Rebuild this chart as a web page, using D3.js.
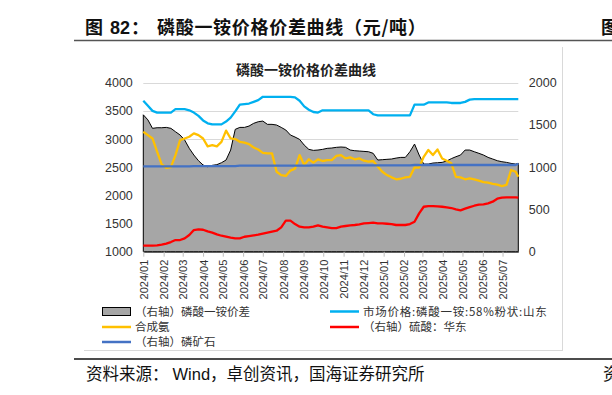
<!DOCTYPE html>
<html><head><meta charset="utf-8">
<script src="https://cdn.jsdelivr.net/npm/d3@7"></script>
<style>
html,body{margin:0;padding:0;background:#fff;}
svg{display:block;}
</style></head>
<body><svg id="c" width="612" height="395"></svg>
<script>
const dates = ["2024-01-01","2024-01-08","2024-01-15","2024-01-22","2024-01-29","2024-02-05","2024-02-12","2024-02-19","2024-02-26","2024-03-04","2024-03-11","2024-03-18","2024-03-25","2024-04-01","2024-04-08","2024-04-15","2024-04-22","2024-04-29","2024-05-06","2024-05-13","2024-05-20","2024-05-27","2024-06-03","2024-06-10","2024-06-17","2024-06-24","2024-07-01","2024-07-08","2024-07-15","2024-07-22","2024-07-29","2024-08-05","2024-08-12","2024-08-19","2024-08-26","2024-09-02","2024-09-09","2024-09-16","2024-09-23","2024-09-30","2024-10-07","2024-10-14","2024-10-21","2024-10-28","2024-11-04","2024-11-11","2024-11-18","2024-11-25","2024-12-02","2024-12-09","2024-12-16","2024-12-23","2024-12-30","2025-01-06","2025-01-13","2025-01-20","2025-01-27","2025-02-03","2025-02-10","2025-02-17","2025-02-24","2025-03-03","2025-03-10","2025-03-17","2025-03-24","2025-03-31","2025-04-07","2025-04-14","2025-04-21","2025-04-28","2025-05-05","2025-05-12","2025-05-19","2025-05-26","2025-06-02","2025-06-09","2025-06-16","2025-06-23","2025-06-30","2025-07-07","2025-07-14","2025-07-21","2025-07-25"];

// (右轴) 磷酸一铵价差
const spreadMAP = [1620,1560,1460,1467,1467,1471,1460,1420,1381,1321,1223,1144,1077,1026,1006,1022,1030,1053,1085,1203,1448,1471,1471,1487,1519,1538,1546,1507,1507,1499,1471,1440,1381,1357,1329,1262,1211,1199,1203,1211,1223,1227,1235,1239,1235,1203,1195,1191,1187,1183,1164,1085,1089,1093,1097,1108,1116,1116,1183,1274,1144,1037,1037,1049,1053,1057,1073,1101,1124,1144,1203,1203,1183,1164,1144,1116,1097,1077,1065,1057,1045,1037,1045];
// 市场价格:磷酸一铵:58%粉状:山东 (左轴)
const priceMAP = [3680,3590,3500,3470,3470,3470,3470,3530,3530,3530,3510,3470,3410,3330,3280,3260,3260,3260,3310,3380,3490,3610,3620,3630,3660,3690,3750,3750,3750,3750,3750,3750,3750,3740,3680,3580,3520,3480,3470,3510,3510,3510,3510,3510,3510,3510,3510,3510,3510,3510,3440,3420,3420,3420,3420,3420,3420,3420,3420,3610,3610,3610,3650,3650,3650,3650,3650,3640,3640,3640,3660,3700,3710,3710,3710,3710,3710,3710,3710,3710,3710,3710,3710];
// 合成氨 (左轴)
const ammonia = [3130,3070,3010,2775,2550,2490,2500,2715,2980,3010,3040,3100,3070,3010,2870,2890,2870,2950,3150,3010,3000,2950,2935,2910,2850,2815,2755,2745,2745,2420,2360,2345,2440,2475,2715,2540,2640,2580,2640,2610,2625,2625,2700,2715,2655,2675,2640,2655,2615,2600,2610,2510,2420,2360,2320,2285,2295,2320,2330,2495,2495,2685,2805,2715,2815,2655,2615,2570,2330,2320,2285,2300,2285,2260,2235,2225,2205,2190,2165,2185,2450,2420,2330];
// (右轴) 硫酸:华东
const sulfuric = [71,71,71,75,83,95,114,138,138,158,197,256,264,260,241,225,205,189,177,166,158,158,177,185,193,201,213,225,237,248,288,367,367,327,296,288,288,296,312,296,288,280,280,296,304,312,316,323,335,339,343,335,335,331,327,316,316,316,327,355,454,532,540,540,536,532,525,517,501,489,509,528,544,556,560,572,592,627,639,643,643,643,639];
// (右轴) 磷矿石
const phosRock = [1010,1010,1010,1010,1010,1010,1010,1010,1010,1010,1010,1012,1012,1012,1012,1012,1012,1012,1012,1012,1012,1018,1018,1018,1018,1018,1018,1018,1018,1018,1018,1018,1018,1018,1018,1018,1018,1022,1022,1022,1022,1022,1022,1022,1022,1022,1022,1022,1022,1022,1022,1022,1022,1022,1022,1022,1022,1022,1022,1026,1026,1026,1026,1026,1026,1026,1026,1026,1026,1026,1026,1026,1026,1026,1026,1026,1026,1026,1026,1026,1026,1026,1040];

const leftTicks = [1000,1500,2000,2500,3000,3500,4000];
const rightTicks = [0,500,1000,1500,2000];

const svg = d3.select("#c");
const parse = d3.timeParse("%Y-%m-%d");
const D = dates.map(parse);
const CJK = "'Noto Sans CJK SC','Noto Sans',sans-serif";
const NUM = "'Liberation Sans',Arial,sans-serif";

const x = d3.scaleTime().domain([D[0], D[D.length-1]]).range([143.3, 518.3]);
const yL = d3.scaleLinear().domain([1000,4000]).range([251.7, 82.7]);
const yR = d3.scaleLinear().domain([0,2000]).range([251.7, 82.7]);

// Header
const hdr = svg.append("text").attr("y",34).attr("font-family",CJK).attr("font-weight","bold").attr("font-size",18).attr("fill","#111");
hdr.append("tspan").attr("x",85).text("图");
hdr.append("tspan").attr("x",110).attr("font-family",NUM).text("82");
hdr.append("tspan").attr("x",131).text("：");
hdr.append("tspan").attr("x",157).attr("letter-spacing",0.7).text("磷酸一铵价格价差曲线（元/吨）");
svg.append("text").attr("x",601).attr("y",34).attr("font-family",CJK).attr("font-weight","bold").attr("font-size",18).attr("fill","#111").text("图");
svg.append("line").attr("x1",74).attr("x2",612).attr("y1",40.5).attr("y2",40.5).attr("stroke","#555").attr("stroke-width",1.3);

// chart frame (right & bottom edges)
svg.append("line").attr("x1",562.5).attr("x2",562.5).attr("y1",47).attr("y2",351).attr("stroke","#D9D9D9");
svg.append("line").attr("x1",84).attr("x2",562.5).attr("y1",350.5).attr("y2",350.5).attr("stroke","#D9D9D9");

// chart title
svg.append("text").attr("x",306).attr("y",75).attr("text-anchor","middle").attr("font-family",CJK).attr("font-weight","bold").attr("font-size",14).attr("fill","#222").text("磷酸一铵价格价差曲线");

// gridlines
svg.append("g").selectAll("line").data(leftTicks.slice(1)).join("line")
  .attr("x1",143.3).attr("x2",518.3).attr("y1",d=>Math.round(yL(d))+0.5).attr("y2",d=>Math.round(yL(d))+0.5)
  .attr("stroke","#D9D9D9").attr("stroke-width",1);

// area
const areaData = D.map((d,i)=>({d, v:spreadMAP[i]}));
svg.append("path").datum(areaData)
  .attr("d", d3.area().x(p=>x(p.d)).y0(yR(0)).y1(p=>yR(p.v)))
  .attr("fill","#A6A6A6").attr("stroke","#000").attr("stroke-width",1).attr("stroke-linejoin","round");

// x axis
const xa = svg.append("g").attr("transform",`translate(0,${yR(0)})`)
  .call(d3.axisBottom(x).ticks(d3.timeMonth.every(1)).tickFormat(d3.timeFormat("%Y/%m")).tickSize(5).tickSizeOuter(0));
xa.select(".domain").attr("stroke","#333");
xa.selectAll(".tick line").attr("stroke","#BFBFBF");
xa.selectAll("text").attr("transform","rotate(-90)").attr("text-anchor","end")
  .attr("x",-8).attr("y",0).attr("dy","0.36em").attr("font-family",NUM).attr("font-size",11).attr("fill","#333");

// lines
function drawLine(vals, scale, color){
  svg.append("path").datum(D.map((d,i)=>({d, v:vals[i]})))
    .attr("d", d3.line().x(p=>x(p.d)).y(p=>scale(p.v)))
    .attr("fill","none").attr("stroke",color).attr("stroke-width",2.3).attr("stroke-linejoin","round");
}
drawLine(priceMAP, yL, "#00B0F0");
drawLine(ammonia, yL, "#FFC000");
drawLine(sulfuric, yR, "#FF0000");
drawLine(phosRock, yR, "#4472C4");

// y axes
const la = svg.append("g").attr("transform","translate(143.3,0)")
  .call(d3.axisLeft(yL).tickValues(leftTicks).tickFormat(d3.format("d")).tickSize(0).tickPadding(10.5));
la.select(".domain").remove();
la.selectAll("text").attr("font-family",NUM).attr("font-size",12.5).attr("fill","#333");
const ra = svg.append("g").attr("transform","translate(518.3,0)")
  .call(d3.axisRight(yR).tickValues(rightTicks).tickFormat(d3.format("d")).tickSize(0).tickPadding(10.5));
ra.select(".domain").remove();
ra.selectAll("text").attr("font-family",NUM).attr("font-size",12.5).attr("fill","#333");

// legend
const legendItems = [
  {type:"area", color:"#A6A6A6", label:"（右轴）磷酸一铵价差", x:102, y:311.5, ls:0},
  {type:"line", color:"#00B0F0", label:"市场价格:磷酸一铵:58%粉状:山东", x:330, y:311.5, ls:0.75},
  {type:"line", color:"#FFC000", label:"合成氨", x:102, y:327, ls:0},
  {type:"line", color:"#FF0000", label:"（右轴）硫酸：华东", x:330, y:327, ls:0},
  {type:"line", color:"#4472C4", label:"（右轴）磷矿石", x:102, y:342, ls:0}
];
const lg = svg.append("g");
legendItems.forEach(it=>{
  if(it.type==="area"){
    lg.append("rect").attr("x",it.x+0.5).attr("y",it.y-4).attr("width",28).attr("height",8)
      .attr("fill",it.color).attr("stroke","#000").attr("stroke-width",1);
  } else {
    lg.append("line").attr("x1",it.x).attr("x2",it.x+29).attr("y1",it.y).attr("y2",it.y)
      .attr("stroke",it.color).attr("stroke-width",2.5);
  }
  lg.append("text").attr("x",it.x+33).attr("y",it.y+4).attr("font-family",CJK).attr("font-size",11.5)
    .attr("letter-spacing",it.ls).attr("fill","#333").text(it.label);
});

// source
svg.append("line").attr("x1",74).attr("x2",612).attr("y1",359).attr("y2",359).attr("stroke","#111").attr("stroke-width",1.3);
const src = svg.append("text").attr("y",380).attr("font-family",CJK).attr("font-size",16.5).attr("fill","#111");
src.append("tspan").attr("x",86).text("资料来源：");
src.append("tspan").attr("font-family",NUM).attr("dx",4).text("Wind");
src.append("tspan").text("，卓创资讯，国海证券研究所");
svg.append("text").attr("x",603).attr("y",380).attr("font-family",CJK).attr("font-size",16.5).attr("fill","#111").text("资料");
</script>
</body></html>
